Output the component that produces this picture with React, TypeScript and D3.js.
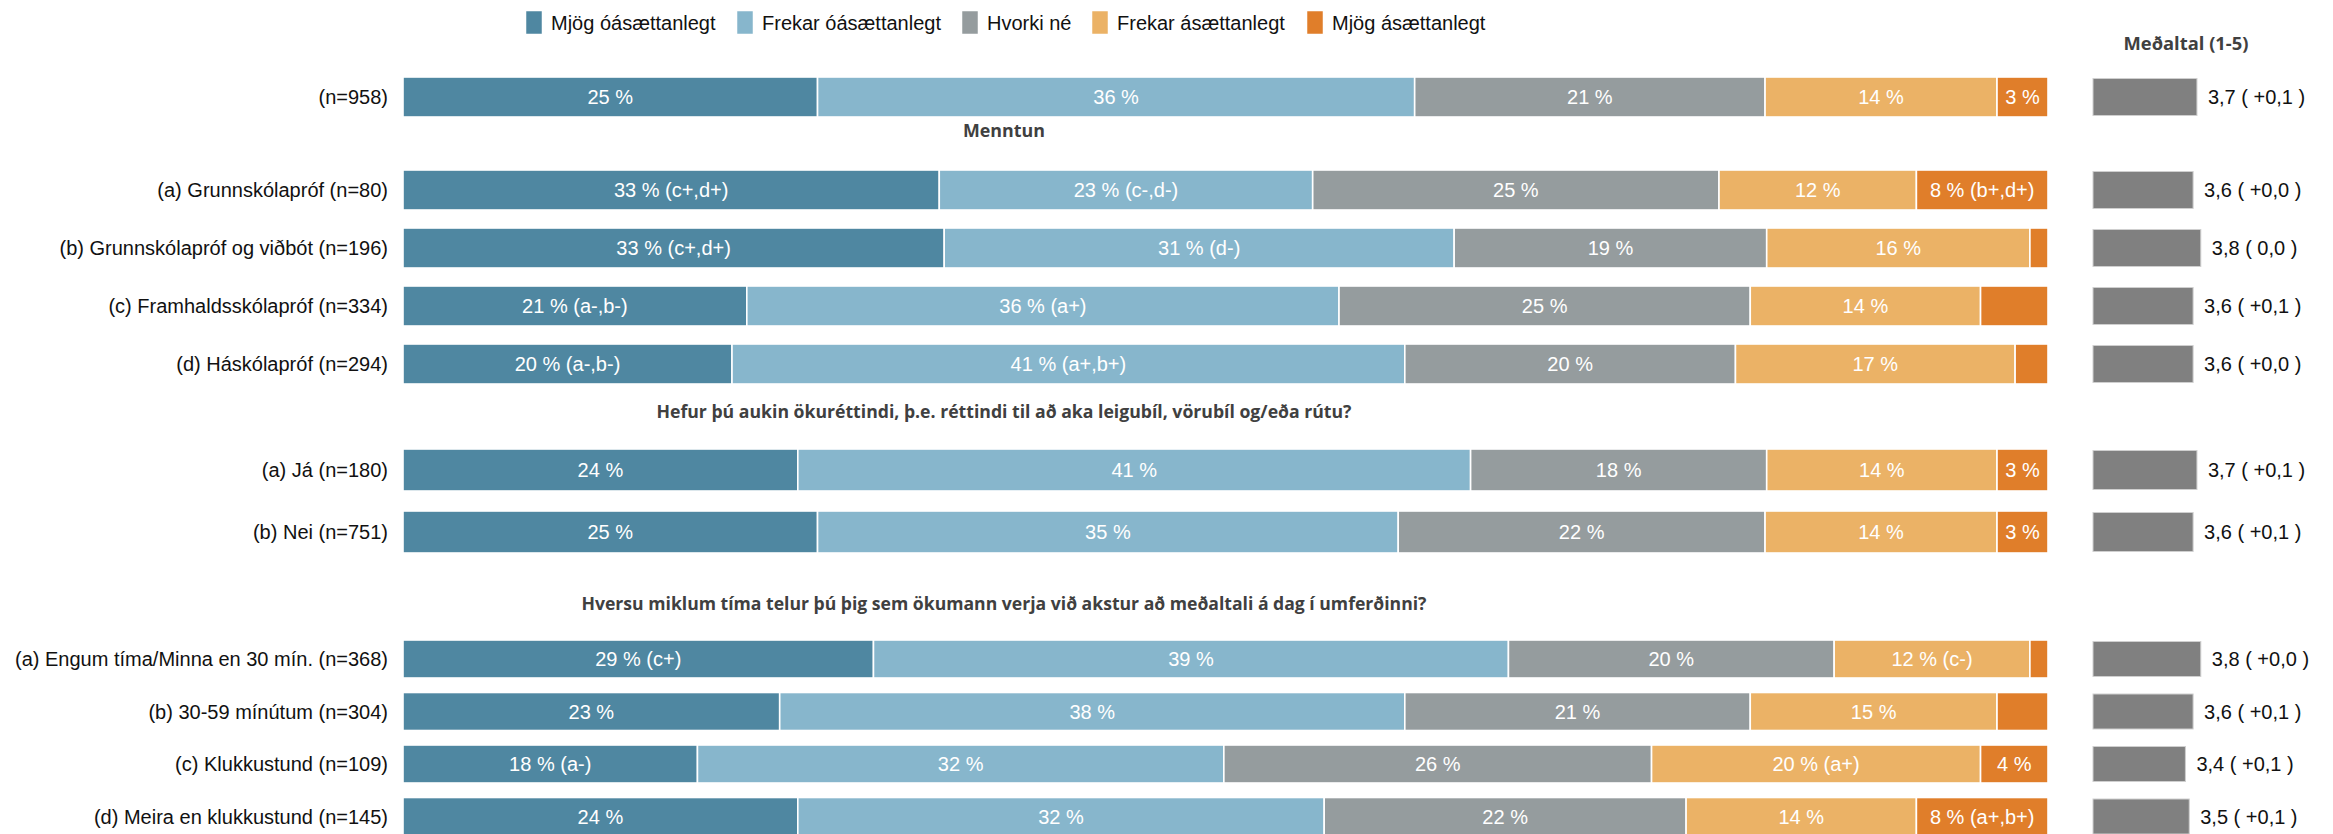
import React from "react";
import * as d3 from "d3";

const W = 2333;
const H = 834;

const seriesNames = ["Mjög óásættanlegt", "Frekar óásættanlegt", "Hvorki né", "Frekar ásættanlegt", "Mjög ásættanlegt"];
const seriesColors = ["#4f87a1", "#87b6cc", "#959c9e", "#ebb266", "#e07e2a"];

const rowLabels = [
  "(n=958)",
  "(a) Grunnskólapróf (n=80)",
  "(b) Grunnskólapróf og viðbót (n=196)",
  "(c) Framhaldsskólapróf (n=334)",
  "(d) Háskólapróf (n=294)",
  "(a) Já (n=180)",
  "(b) Nei (n=751)",
  "(a) Engum tíma/Minna en 30 mín. (n=368)",
  "(b) 30-59 mínútum (n=304)",
  "(c) Klukkustund (n=109)",
  "(d) Meira en klukkustund (n=145)",
];
const rowSection = [0, 1, 1, 1, 1, 2, 2, 3, 3, 3, 3];

const sectionTitles = [
  "",
  "Menntun",
  "Hefur þú aukin ökuréttindi, þ.e. réttindi til að aka leigubíl, vörubíl og/eða rútu?",
  "Hversu miklum tíma telur þú þig sem ökumann verja við akstur að meðaltali á dag í umferðinni?",
];

const mjogOa = [25.2, 32.6, 32.9, 20.9, 20.0, 24.0, 25.2, 28.6, 22.9, 17.9, 24.0];
const frekarOa = [36.3, 22.7, 31.0, 36.0, 40.9, 40.9, 35.3, 38.6, 38.0, 32.0, 32.0];
const hvorki = [21.3, 24.7, 19.0, 25.0, 20.1, 18.0, 22.3, 19.8, 21.0, 26.0, 22.0];
const frekarA = [14.1, 12.0, 16.0, 14.0, 17.0, 14.0, 14.1, 11.9, 15.0, 20.0, 14.0];
const mjogA = [3.1, 8.0, 1.1, 4.1, 2.0, 3.1, 3.1, 1.1, 3.1, 4.1, 8.0];

const lblMjogOa = ["25 %", "33 % (c+,d+)", "33 % (c+,d+)", "21 % (a-,b-)", "20 % (a-,b-)", "24 %", "25 %", "29 % (c+)", "23 %", "18 % (a-)", "24 %"];
const lblFrekarOa = ["36 %", "23 % (c-,d-)", "31 % (d-)", "36 % (a+)", "41 % (a+,b+)", "41 %", "35 %", "39 %", "38 %", "32 %", "32 %"];
const lblHvorki = ["21 %", "25 %", "19 %", "25 %", "20 %", "18 %", "22 %", "20 %", "21 %", "26 %", "22 %"];
const lblFrekarA = ["14 %", "12 %", "16 %", "14 %", "17 %", "14 %", "14 %", "12 % (c-)", "15 %", "20 % (a+)", "14 %"];
const lblMjogA = ["3 %", "8 % (b+,d+)", "", "", "", "3 %", "3 %", "", "", "4 %", "8 % (a+,b+)"];

const means = [3.7, 3.6, 3.8, 3.6, 3.6, 3.7, 3.6, 3.8, 3.6, 3.4, 3.5];
const meanChanges = ["+0,1", "+0,0", "0,0", "+0,1", "+0,0", "+0,1", "+0,1", "+0,0", "+0,1", "+0,1", "+0,1"];

const meanTitle = "Meðaltal (1-5)";

// layout
const sectionLayout = [
  { firstY: 97, step: 58, barH: 40, titleY: 0, titleW: 0 },
  { firstY: 190, step: 58, barH: 40, titleY: 131, titleW: 82 },
  { firstY: 470, step: 62, barH: 42, titleY: 412, titleW: 695 },
  { firstY: 659, step: 52.5, barH: 38, titleY: 604, titleW: 845 },
];
const legendX = [526, 737, 962, 1092, 1307];

const FONT = "'Liberation Sans', Arial, sans-serif";
const TITLE_FONT = "'Open Sans', 'Noto Sans', sans-serif";

export default function App() {
  const x = d3.scaleLinear().domain([0, 100]).range([403, 2048]);
  const xm = d3.scaleLinear().domain([1, 5]).range([2093, 2093 + 154]);

  const seriesVals = [mjogOa, frekarOa, hvorki, frekarA, mjogA];
  const seriesLbls = [lblMjogOa, lblFrekarOa, lblHvorki, lblFrekarA, lblMjogA];

  const table = rowLabels.map((label, i) => {
    const o: any = { label };
    seriesNames.forEach((s, k) => (o[s] = seriesVals[k][i]));
    return o;
  });
  const stacked = d3.stack().keys(seriesNames)(table as any);

  const rowY = rowLabels.map((_, i) => {
    const s = rowSection[i];
    const idx = rowSection.slice(0, i).filter((v) => v === s).length;
    return sectionLayout[s].firstY + idx * sectionLayout[s].step;
  });

  const sectionCenter = 1004;

  return (
    <svg width={W} height={H} style={{ position: "absolute", left: 0, top: 0, background: "#fff" }}>
      {/* legend */}
      {seriesNames.map((s, k) => (
        <g key={s}>
          <rect x={legendX[k]} y={11} width={16} height={23} fill={seriesColors[k]} stroke="#fff" strokeWidth={0.5} />
          <text x={legendX[k] + 25} y={23} dy="0.35em" fontFamily={FONT} fontSize={20} fill="#111">
            {s}
          </text>
        </g>
      ))}

      {/* section titles */}
      {sectionTitles.map((t, s) =>
        t ? (
          <text
            key={t}
            x={sectionCenter}
            y={sectionLayout[s].titleY}
            dy="0.35em"
            textAnchor="middle"
            fontFamily={TITLE_FONT}
            fontWeight="bold"
            fontSize={17}
            fill="#404040"
            textLength={sectionLayout[s].titleW}
            lengthAdjust="spacingAndGlyphs"
          >
            {t}
          </text>
        ) : null
      )}

      {/* mean title */}
      <text x={2186} y={44} dy="0.35em" textAnchor="middle" fontFamily={TITLE_FONT} fontWeight="bold" fontSize={18} fill="#404040" textLength={125} lengthAdjust="spacingAndGlyphs">
        {meanTitle}
      </text>

      {/* row labels */}
      {rowLabels.map((l, i) => (
        <text key={l + i} x={388} y={rowY[i]} dy="0.35em" textAnchor="end" fontFamily={FONT} fontSize={20} fill="#111">
          {l}
        </text>
      ))}

      {/* stacked bars */}
      {stacked.map((layer, k) => (
        <g key={layer.key}>
          {layer.map((d, i) => {
            const bh = sectionLayout[rowSection[i]].barH;
            const x0 = x(d[0]);
            const x1 = x(d[1]);
            return (
              <g key={i}>
                <rect x={x0} y={rowY[i] - bh / 2} width={x1 - x0} height={bh} fill={seriesColors[k]} stroke="#fff" strokeWidth={1.6} />
                {seriesLbls[k][i] ? (
                  <text x={(x0 + x1) / 2} y={rowY[i]} dy="0.35em" textAnchor="middle" fontFamily={FONT} fontSize={20} fill="#fff">
                    {seriesLbls[k][i]}
                  </text>
                ) : null}
              </g>
            );
          })}
        </g>
      ))}

      {/* means */}
      {means.map((m, i) => {
        const bh = sectionLayout[rowSection[i]].barH - 3;
        return (
          <g key={"m" + i}>
            <rect x={xm(1)} y={rowY[i] - bh / 2} width={xm(m) - xm(1)} height={bh} fill="#808080" stroke="#cfcfcf" strokeWidth={1} />
            <text x={xm(m) + 11} y={rowY[i]} dy="0.35em" fontFamily={FONT} fontSize={20} fill="#111">
              {`${d3.format(".1f")(m).replace(".", ",")} ( ${meanChanges[i]} )`}
            </text>
          </g>
        );
      })}
    </svg>
  );
}
